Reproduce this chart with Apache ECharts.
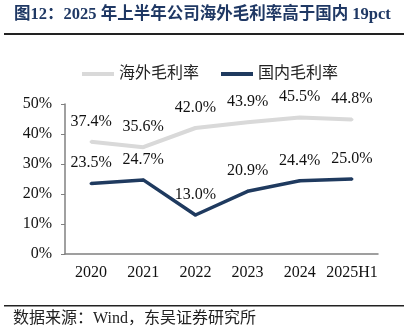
<!DOCTYPE html>
<html>
<head>
<meta charset="utf-8">
<script src="https://cdn.jsdelivr.net/npm/echarts@6/dist/echarts.min.js"></script>
<style>
  html, body { margin: 0; padding: 0; background: #fff; }
  #chart { width: 408px; height: 329px; }
</style>
</head>
<body>
<div id="chart"></div>
<script>
// Gross margin by region, 2020 – 2025H1
const years = ['2020', '2021', '2022', '2023', '2024', '2025H1'];
const overseasMargin = [37.4, 35.6, 42.0, 43.9, 45.5, 44.8];
const domesticMargin = [23.5, 24.7, 13.0, 20.9, 24.4, 25.0];
const seriesNames = ['海外毛利率', '国内毛利率'];
const seriesColors = ['#d9d9d9', '#1f3a5f'];

const serif = '"Liberation Serif", "Times New Roman", "Noto Sans CJK SC", serif';
const cjk = '"Liberation Serif", "Noto Sans CJK SC", serif';

const chart = echarts.init(document.getElementById('chart'), null, { renderer: 'canvas' });

const labelStyle = {
  show: true,
  position: 'top',
  distance: 11,
  fontFamily: serif,
  fontSize: 16,
  color: '#111',
  formatter: p => p.value.toFixed(1) + '%'
};

chart.setOption({
  animation: false,
  graphic: [
    {
      type: 'text', left: 14, top: 6,
      style: {
        text: '图12：2025 年上半年公司海外毛利率高于国内 19pct',
        font: 'bold 16.5px ' + cjk,
        fill: '#1f3864'
      }
    },
    { type: 'rect', shape: { x: 4, y: 33, width: 400, height: 2 }, style: { fill: '#222' } },
    { type: 'rect', shape: { x: 4, y: 305, width: 400, height: 1.5 }, style: { fill: '#222' } },
    {
      type: 'text', left: 13, top: 311,
      style: {
        text: '数据来源：Wind，东吴证券研究所',
        font: '16px ' + cjk,
        fill: '#222'
      }
    }
  ],
  legend: {
    left: 82, top: 66, padding: 0,
    itemWidth: 32, itemHeight: 4, itemGap: 22,
    textStyle: { fontFamily: cjk, fontSize: 16, color: '#222' },
    data: seriesNames.map(n => ({ name: n, icon: 'rect' }))
  },
  grid: { left: 65, right: 30, top: 104, bottom: 75 },
  xAxis: {
    type: 'category',
    data: years,
    boundaryGap: true,
    axisLine: { lineStyle: { color: '#808080', width: 1.5 } },
    axisTick: { inside: true, length: 4, lineStyle: { color: '#808080' } },
    axisLabel: { interval: 0, margin: 11, fontFamily: serif, fontSize: 16, color: '#111' }
  },
  yAxis: {
    type: 'value',
    min: 0, max: 50, interval: 10,
    splitLine: { show: false },
    axisLine: { show: true, lineStyle: { color: '#808080', width: 1.5 } },
    axisTick: { show: true, length: 4, lineStyle: { color: '#808080' } },
    axisLabel: { margin: 13, formatter: '{value}%', fontFamily: serif, fontSize: 16, color: '#111' }
  },
  series: [
    {
      name: seriesNames[0], type: 'line', data: overseasMargin,
      symbol: 'circle', symbolSize: 3, showSymbol: true,
      itemStyle: { color: seriesColors[0] },
      lineStyle: { width: 4, color: seriesColors[0] },
      label: labelStyle
    },
    {
      name: seriesNames[1], type: 'line', data: domesticMargin,
      symbol: 'circle', symbolSize: 3, showSymbol: true,
      itemStyle: { color: seriesColors[1] },
      lineStyle: { width: 3.5, color: seriesColors[1] },
      label: labelStyle
    }
  ]
});
</script>
</body>
</html>
